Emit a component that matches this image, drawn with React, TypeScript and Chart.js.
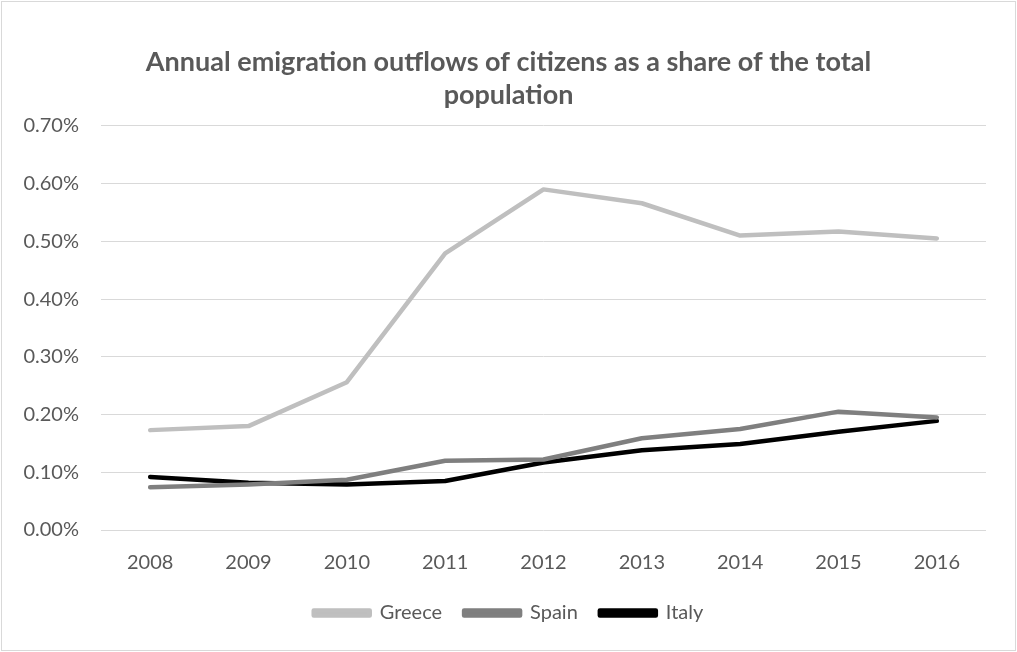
import React, { useEffect, useRef } from "react";
import { Chart, registerables } from "chart.js";

Chart.register(...registerables);

const years = ["2008", "2009", "2010", "2011", "2012", "2013", "2014", "2015", "2016"];
const greece = [0.173, 0.18, 0.256, 0.479, 0.59, 0.566, 0.51, 0.517, 0.505];
const spain = [0.074, 0.079, 0.087, 0.12, 0.122, 0.159, 0.175, 0.205, 0.195];
const italy = [0.092, 0.082, 0.079, 0.085, 0.117, 0.138, 0.149, 0.17, 0.189];
const titleLines = ["Annual emigration outflows of citizens as a share of the total", "population"];

const TEXT = "#595959";
const FONT = "Lato, Carlito, 'Open Sans', sans-serif";

const borderPlugin = {
  id: "outerBorder",
  afterDraw(chart: any) {
    const ctx = chart.ctx;
    ctx.save();
    ctx.strokeStyle = "#D9D9D9";
    ctx.lineWidth = 1;
    ctx.strokeRect(1.5, 1.5, chart.width - 3, chart.height - 3);
    ctx.restore();
  },
};

export default function App() {
  const ref = useRef<HTMLCanvasElement>(null);
  useEffect(() => {
    if (!ref.current) return;
    const mk = (label: string, data: number[], color: string) => ({
      label,
      data,
      borderColor: color,
      backgroundColor: color,
      borderWidth: 4.5,
      pointRadius: 0,
      pointHoverRadius: 0,
      tension: 0,
      borderCapStyle: "round" as const,
      borderJoinStyle: "round" as const,
    });
    const chart = new Chart(ref.current, {
      type: "line",
      data: {
        labels: years,
        datasets: [mk("Greece", greece, "#BFBFBF"), mk("Spain", spain, "#7F7F7F"), mk("Italy", italy, "#000000")],
      },
      plugins: [borderPlugin],
      options: {
        animation: false,
        responsive: true,
        maintainAspectRatio: false,
        layout: { padding: { left: 0, right: 0, top: 0, bottom: 19 } },
        plugins: {
          tooltip: { enabled: false },
          title: {
            display: true,
            text: titleLines,
            color: TEXT,
            font: { family: FONT, size: 27, weight: "bold", lineHeight: 1.22 },
            padding: { top: 46, bottom: 14 },
          },
          legend: {
            position: "bottom",
            labels: {
              color: TEXT,
              font: { family: FONT, size: 20 },
              boxWidth: 56,
              boxHeight: 5,
              padding: 22,
            },
          },
        },
        scales: {
          x: {
            offset: true,
            grid: { display: false, drawTicks: false },
            border: { display: false },
            ticks: { color: TEXT, font: { family: FONT, size: 20 }, padding: 21, maxRotation: 0 },
            afterFit: (s: any) => {
              s.height = 51;
            },
          },
          y: {
            min: 0,
            max: 0.7,
            grid: { color: "#D9D9D9", lineWidth: 1, drawTicks: false },
            border: { display: false },
            afterFit: (s: any) => {
              s.width = 101;
            },
            ticks: {
              stepSize: 0.1,
              color: TEXT,
              font: { family: FONT, size: 20 },
              padding: 22,
              callback: (v: any) => Number(v).toFixed(2) + "%",
            },
          },
          yRight: {
            position: "right",
            display: true,
            grid: { display: false, drawTicks: false },
            border: { display: false },
            ticks: { display: false },
            afterFit: (s: any) => {
              s.width = 31;
            },
          },
        },
      },
    });
    return () => chart.destroy();
  }, []);
  return (
    <div style={{ position: "fixed", left: 0, top: 0, width: 1017, height: 652, background: "#fff" }}>
      <canvas ref={ref} />
    </div>
  );
}
